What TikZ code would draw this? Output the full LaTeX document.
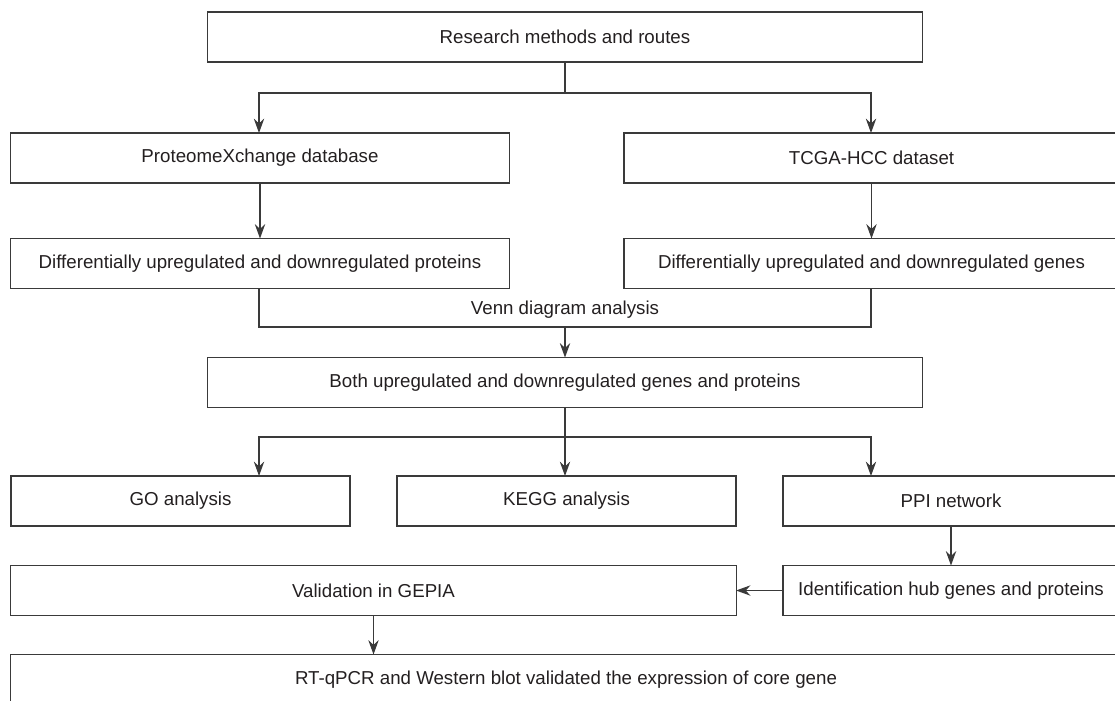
\documentclass[tikz,border=0pt]{standalone}
\usepackage{fontspec}
\setmainfont{Liberation Sans}
\usetikzlibrary{arrows.meta}

\definecolor{r58g58b58}{rgb}{0.227451,0.227451,0.227451}%
\definecolor{r35g31b32}{rgb}{0.137255,0.121569,0.125490}%

\tikzset{
  flowbox/.style={draw=r58g58b58, line width=0.8pt, inner sep=0pt, outer sep=0pt,
    minimum height=1.25cm, text=r35g31b32, font=\fontsize{13.3}{16}\selectfont},
  flowline/.style={draw=r58g58b58, line width=0.8pt},
  flowarrow/.style={flowline, -{Stealth[length=3.6mm,width=2.6mm,inset=1.2mm]}}
}

\begin{document}
\begin{tikzpicture}[x=0.025cm, y=-0.025cm]
                        \useasboundingbox (0,0) rectangle (1115,700);
                        \clip (0,0) rectangle (1115,700);

                        % Box research methods
                        \node[flowbox, minimum width=17.85cm] (routes) at (565,37) {Research methods and routes};

                        % Boxes of the two sources
                        \node[flowbox, minimum width=12.45cm] (proteome) at (260,158) {ProteomeXchange database};
                        \node[flowbox, minimum width=12.375cm] (tcga) at (871.5,158) {TCGA-HCC dataset};

                        % Boxes of the differential lists
                        \node[flowbox, minimum width=12.45cm] (diffprot) at (260,263.5) {Differentially upregulated and downregulated proteins};
                        \node[flowbox, minimum width=12.375cm] (diffgene) at (871.5,263.5) {Differentially upregulated and downregulated genes};

                        % Box of the overlap
                        \node[flowbox, minimum width=17.85cm] (both) at (565,382.5) {Both upregulated and downregulated genes and proteins};

                        % Boxes of the analyses
                        \node[flowbox, minimum width=8.475cm] (go) at (180.5,501) {GO analysis};
                        \node[flowbox, minimum width=8.475cm] (kegg) at (566.5,501) {KEGG analysis};
                        \node[flowbox, minimum width=8.4cm] (ppi) at (951,501) {PPI network};

                        % Boxes of the validation
                        \node[flowbox, minimum width=18.125cm] (gepia) at (373.5,590.5) {Validation in GEPIA};
                        \node[flowbox, minimum width=8.4cm] (hub) at (951,590.5) {Identification hub genes and proteins};
                        \node[flowbox, minimum width=27.75cm] (rtqpcr) at (566,679.5) {RT-qPCR and Western blot validated the expression of core gene};

                        % Split points
                        \coordinate (split1) at (565,93);
                        \coordinate (merge) at (565,327);
                        \coordinate (split2) at (565,437);

                        % Drawing lines from the top box
                        \draw[flowline] (routes.south -| split1) -- (split1);
                        \draw[flowarrow] (split1) -| ([xshift=-0.025cm]proteome.north);
                        \draw[flowarrow] (split1) -| ([xshift=-0.0125cm]tcga.north);

                        % Drawing lines to the differential lists
                        \draw[flowarrow] (proteome) -- (diffprot);
                        \draw[flowarrow] (tcga) -- (diffgene);

                        % Drawing Venn merge
                        \draw[flowline] ([xshift=-0.025cm]diffprot.south) |- (merge) -| ([xshift=-0.0125cm]diffgene.south);
                        \node[text=r35g31b32, font=\fontsize{13.3}{16}\selectfont] (venn) at (565,310) {Venn diagram analysis};
                        \draw[flowarrow] (merge) -- (merge |- both.north);

                        % Drawing lines to the analyses
                        \draw[flowline] (both.south -| split2) -- (split2);
                        \draw[flowarrow] (split2) -| ([xshift=1.9625cm]go.north);
                        \draw[flowarrow] (split2) -- (split2 |- kegg.north);
                        \draw[flowarrow] (split2) -| ([xshift=-2cm]ppi.north);

                        % Drawing lines of the validation
                        \draw[flowarrow] (ppi) -- (hub);
                        \draw[flowarrow] (hub) -- (gepia);
                        \draw[flowarrow] (gepia.south) -- (gepia.south |- rtqpcr.north);
                    \end{tikzpicture}
\end{document}
